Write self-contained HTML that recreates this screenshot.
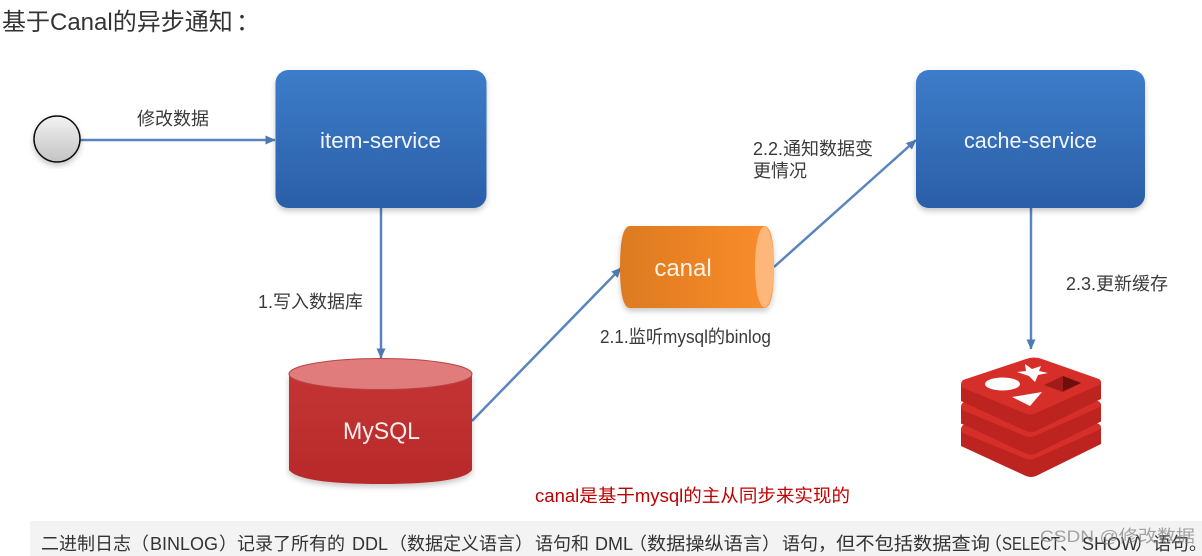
<!DOCTYPE html>
<html lang="zh"><head><meta charset="utf-8">
<style>
html,body{margin:0;padding:0;background:#fff;}
body{width:1202px;height:556px;overflow:hidden;position:relative;}
svg{position:absolute;left:0;top:0;}
text{font-family:"Liberation Sans","Noto Sans CJK SC",sans-serif;text-spacing-trim:space-all;}
</style></head><body>
<svg width="1202" height="556" viewBox="0 0 1202 556" xmlns="http://www.w3.org/2000/svg">
<defs>
<linearGradient id="b" x1="0" y1="0" x2="0" y2="1"><stop offset="0" stop-color="#3d7cc9"/><stop offset="1" stop-color="#2b5fa8"/></linearGradient>
<linearGradient id="r" x1="0" y1="0" x2="0" y2="1"><stop offset="0" stop-color="#c43434"/><stop offset="1" stop-color="#b82a2a"/></linearGradient>
<linearGradient id="o" x1="0" y1="0" x2="1" y2="0"><stop offset="0" stop-color="#dc7a20"/><stop offset="1" stop-color="#fb8d2b"/></linearGradient>
<linearGradient id="g" x1="0" y1="0" x2="0" y2="1"><stop offset="0" stop-color="#f2f2f2"/><stop offset="1" stop-color="#c4c4c4"/></linearGradient>
<filter id="s" x="-10%" y="-10%" width="120%" height="125%"><feDropShadow dx="0" dy="3" stdDeviation="3" flood-color="#000" flood-opacity=".22"/></filter>
<marker id="a" markerWidth="10" markerHeight="9" refX="9.500" refY="4.500" orient="auto" markerUnits="userSpaceOnUse"><path d="M0 0L10 4.500L0 9Z" fill="#4f79b5"/></marker>
<g id="layer">
<path d="M961 384V401L1026 431Q1031 433 1036 431L1101 399V382Z" fill="#bd231f"/>
<path d="M963 380L1026 359Q1034 356 1042 359L1099 379Q1103 382 1099 385L1036 413Q1030 416 1024 413L963 388Q959 384 963 380Z" fill="#d62e29"/>
</g>
</defs>

<text x="2" y="30" font-size="24" fill="#333">基于Canal的异步通知</text>
<text x="236" y="30" font-size="24" fill="#333">：</text>

<!-- connectors -->
<g stroke="#5a84bd" stroke-width="2.500" fill="none" marker-end="url(#a)">
<line x1="80" y1="140" x2="275" y2="140"/>
<line x1="381" y1="208" x2="381" y2="358"/>
<line x1="472" y1="421" x2="621" y2="268"/>
<line x1="774" y1="267" x2="916" y2="140"/>
<line x1="1031" y1="208" x2="1031" y2="349"/>
</g>

<!-- start circle -->
<circle cx="57" cy="139" r="23" fill="url(#g)" stroke="#111" stroke-width="1.500" filter="url(#s)"/>

<!-- services -->
<rect x="275.500" y="70" width="211" height="138" rx="13" fill="url(#b)" filter="url(#s)"/>
<text x="320" y="148" font-size="22" fill="#f2f6fb" textLength="121" lengthAdjust="spacingAndGlyphs">item-service</text>
<rect x="916" y="70" width="229" height="138" rx="13" fill="url(#b)" filter="url(#s)"/>
<text x="964" y="148" font-size="22" fill="#f2f6fb" textLength="133" lengthAdjust="spacingAndGlyphs">cache-service</text>

<!-- MySQL -->
<path d="M289 374V470Q300 484 381 484Q462 484 472 470V374Z" fill="url(#r)" filter="url(#s)"/>
<ellipse cx="380.500" cy="374" rx="91.500" ry="15.500" fill="#e17c7c" stroke="#b84444" stroke-width="1"/>
<text x="343" y="439" font-size="24" fill="#fbeeee" textLength="77" lengthAdjust="spacingAndGlyphs">MySQL</text>

<!-- canal -->
<path d="M630 226H764Q774 226 774 267Q774 308 764 308H630Q620 308 620 267Q620 226 630 226Z" fill="url(#o)" filter="url(#s)"/>
<ellipse cx="764.500" cy="267" rx="9.500" ry="40.500" fill="#fdb77a"/>
<text x="683" y="276" font-size="24" fill="#fff3e6" text-anchor="middle">canal</text>

<!-- redis -->
<use href="#layer" y="45"/>
<use href="#layer" y="22.500"/>
<use href="#layer"/>
<ellipse cx="1002.500" cy="384" rx="17.500" ry="6.500" fill="#fff"/>
<path d="M1025 364L1032 369L1041 366L1039 371L1048 373L1038 375L1035 382L1029 376L1017 372L1026 371Z" fill="#fff"/>
<path d="M1012 397L1042 392L1030 406Z" fill="#fff"/>
<path d="M1044 385L1063 376L1081 383L1063 392Z" fill="#a01c18"/>
<path d="M1063 376L1081 383L1063 391Z" fill="#6e0f0c"/>

<!-- labels -->
<g font-size="18" fill="#3a3a3a">
<text x="137" y="125">修改数据</text>
<text x="258" y="308">1.写入数据库</text>
<text x="600" y="343" textLength="171" lengthAdjust="spacingAndGlyphs">2.1.监听mysql的binlog</text>
<text x="753" y="155">2.2.通知数据变</text>
<text x="753" y="177">更情况</text>
<text x="1066" y="290">2.3.更新缓存</text>
</g>
<text x="535" y="502" font-size="18" fill="#c00000" textLength="315" lengthAdjust="spacingAndGlyphs">canal是基于mysql的主从同步来实现的</text>

<!-- bottom note -->
<rect x="30" y="521" width="1172" height="35" fill="#f3f3f3"/>
<g font-size="18" fill="#333">
<text x="41" y="550">二进制日志（</text><text x="150" y="550">BINLOG</text><text x="219" y="550">）</text><text x="237" y="550">记录了所有的</text><text x="352" y="550">DDL</text><text x="389" y="550">（</text><text x="407" y="550">数据定义语言</text><text x="515" y="550">）</text><text x="535" y="550">语句和</text><text x="595" y="550">DML</text><text x="629" y="550">（</text><text x="647" y="550" textLength="115" lengthAdjust="spacingAndGlyphs">数据操纵语言</text><text x="762" y="550">）</text><text x="782" y="550">语句，</text><text x="836" y="550" textLength="154" lengthAdjust="spacingAndGlyphs">但不包括数据查询</text><text x="984" y="550">（</text><text x="1002" y="550" textLength="58" lengthAdjust="spacingAndGlyphs">SELECT</text><text x="1060" y="550">、</text><text x="1082" y="550">SHOW</text><text x="1135" y="550">）</text><text x="1153" y="550">语句。</text>
</g>
<text x="1040" y="542" font-size="17" fill="#888" opacity=".75" textLength="155" lengthAdjust="spacingAndGlyphs">CSDN @修改数据</text>
</svg>
</body></html>
